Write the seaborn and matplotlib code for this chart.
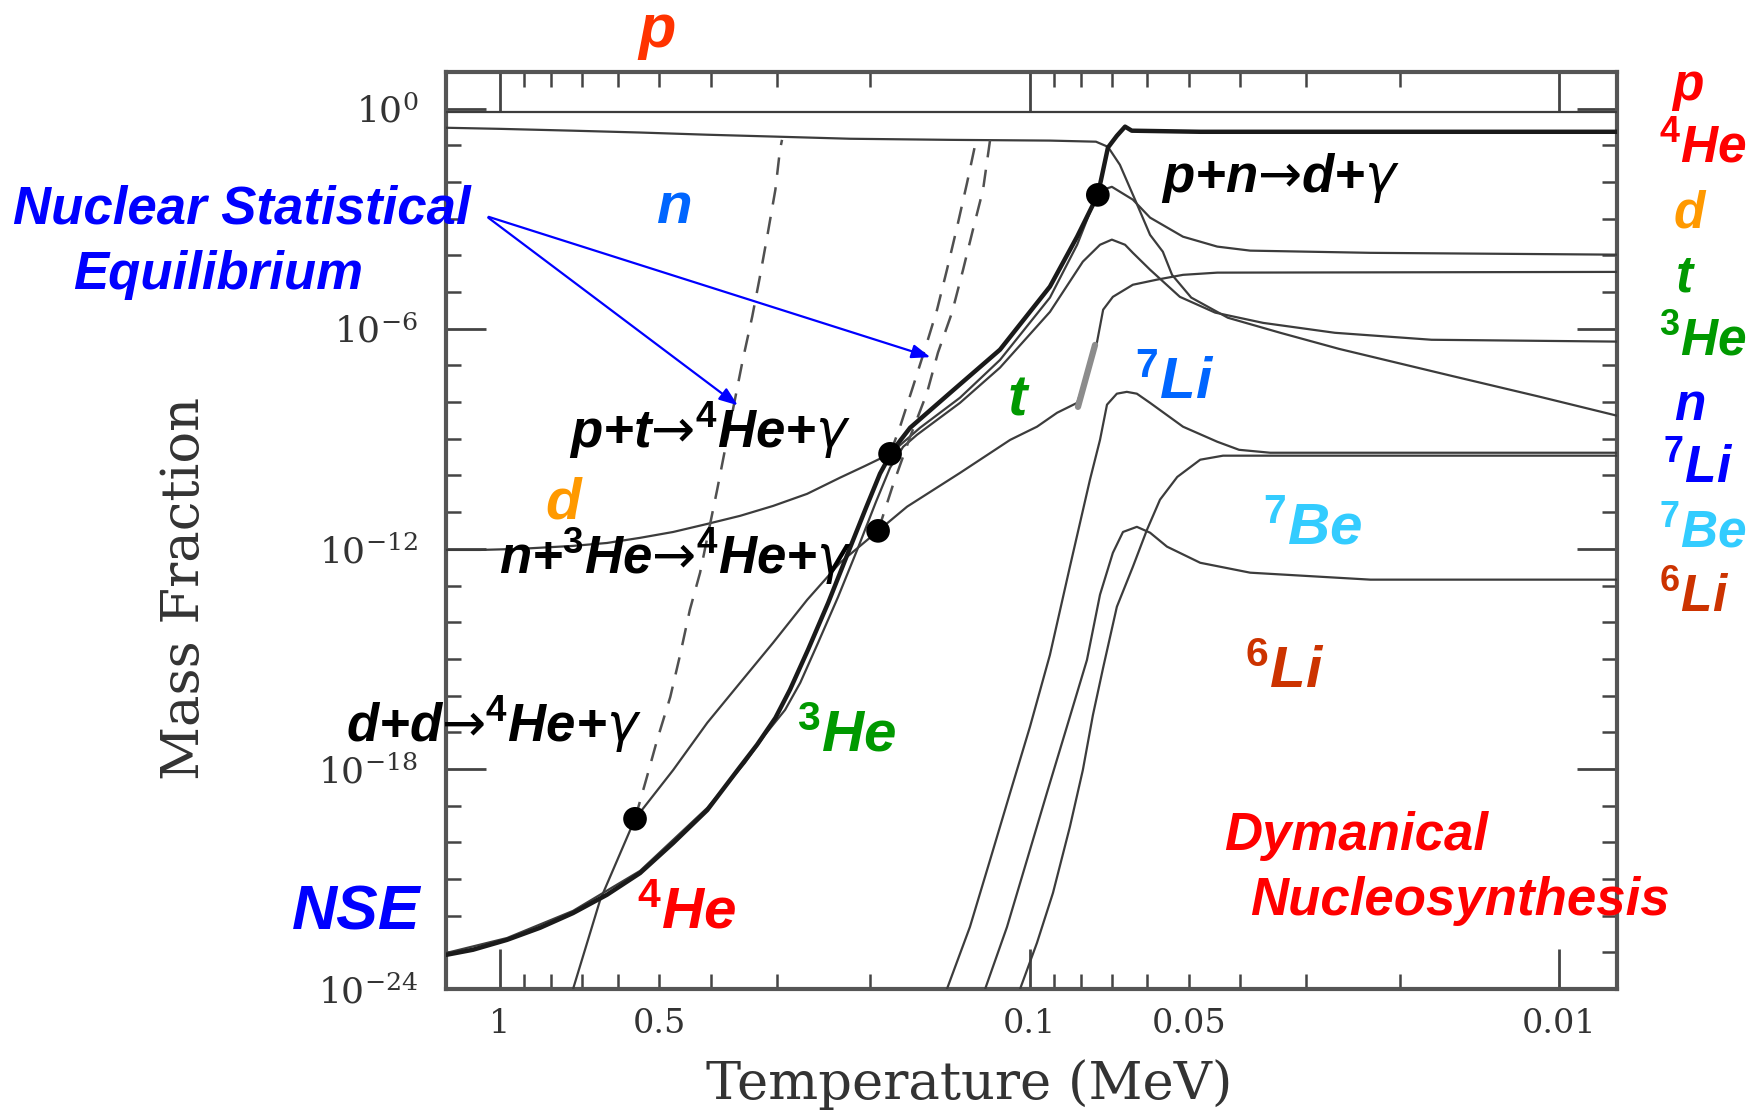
import numpy as np
import pandas as pd
import matplotlib
matplotlib.use("Agg")
import matplotlib.pyplot as plt
import matplotlib.ticker as mticker
from matplotlib.patches import FancyArrowPatch
import seaborn as sns

# ---------------------------------------------------------------------------
# Abundance tracks: temperature in MeV, log10 of the mass fraction
# ---------------------------------------------------------------------------
p_T = [1.265, 0.42, 0.114, 0.031, 0.00777]
p_logX = [-0.08, -0.08, -0.08, -0.08, -0.08]

n_T = [1.265, 1.0, 0.728, 0.544, 0.406, 0.305, 0.218, 0.141, 0.0915, 0.0749,
       0.0711, 0.0675, 0.0632, 0.0592, 0.0560, 0.0538, 0.0495, 0.0422, 0.0336,
       0.0260, 0.0160, 0.0109, 0.00777]
n_logX = [-0.52, -0.55, -0.60, -0.65, -0.71, -0.76, -0.82, -0.85, -0.87, -0.90,
          -1.04, -1.53, -2.48, -3.44, -3.90, -4.53, -5.15, -5.70, -6.11,
          -6.55, -7.28, -7.85, -8.37]

he4_T = [1.265, 1.125, 0.970, 0.840, 0.728, 0.628, 0.544, 0.471, 0.406, 0.352,
         0.327, 0.302, 0.2834, 0.262, 0.240, 0.2202, 0.2036, 0.1916, 0.1810,
         0.1681, 0.1413, 0.1137, 0.0915, 0.0813, 0.0743, 0.0711, 0.0684, 0.0660,
         0.0641, 0.0476, 0.00777]
he4_logX = [-23.07, -22.93, -22.66, -22.33, -21.93, -21.43, -20.84, -20.02, -19.12,
            -17.94, -17.34, -16.61, -15.84, -14.75, -13.47, -12.11, -10.88, -9.95,
            -9.30, -8.70, -7.75, -6.57, -4.85, -3.49, -2.35, -1.06, -0.74, -0.49,
            -0.60, -0.63, -0.63]

d_T = [1.265, 1.091, 0.917, 0.728, 0.628, 0.544, 0.471, 0.406, 0.352, 0.305,
       0.263, 0.228, 0.2045, 0.1834, 0.161, 0.1353, 0.1137, 0.0915, 0.0813,
       0.0759, 0.0726, 0.0699, 0.0638, 0.0592, 0.0513, 0.0442, 0.0383, 0.0227,
       0.00777]
d_logX = [-12.03, -12.03, -12.00, -11.92, -11.84, -11.70, -11.54, -11.32, -11.10,
          -10.83, -10.50, -10.06, -9.74, -9.41, -8.70, -7.88, -6.85, -5.15, -3.71,
          -2.62, -2.21, -2.13, -2.48, -2.97, -3.49, -3.76, -3.87, -3.93, -3.98]

he3_T = [1.265, 0.970, 0.728, 0.544, 0.406, 0.345, 0.316, 0.2895, 0.271, 0.2508,
         0.2299, 0.2108, 0.1950, 0.1834, 0.1733, 0.1631, 0.1353, 0.1137, 0.0915,
         0.0793, 0.0736, 0.0699, 0.0660, 0.0638, 0.0592, 0.0520, 0.0446, 0.0362,
         0.0265, 0.0174, 0.00777]
he3_logX = [-23.02, -22.61, -21.87, -20.78, -19.06, -17.84, -17.07, -16.39, -15.65,
            -14.56, -13.31, -11.97, -10.72, -9.79, -9.22, -8.89, -8.02, -7.06, -5.54,
            -4.17, -3.71, -3.57, -3.71, -3.93, -4.39, -5.13, -5.56, -5.84, -6.11,
            -6.30, -6.35]

t_T = [0.728, 0.647, 0.556, 0.471, 0.406, 0.352, 0.305, 0.263, 0.228, 0.1932,
       0.1703, 0.1353, 0.1088, 0.0968, 0.0887, 0.0813, 0.0779, 0.0746, 0.0726,
       0.0696, 0.0638, 0.0574, 0.0513, 0.0442, 0.00777]
t_logX = [-24.0, -21.57, -19.36, -18.03, -16.74, -15.65, -14.56, -13.39, -12.38,
          -11.51, -10.85, -9.93, -9.03, -8.67, -8.29, -8.02, -7.25, -6.38, -5.48,
          -5.13, -4.80, -4.66, -4.53, -4.47, -4.45]

li7_T = [0.1432, 0.1296, 0.1187, 0.1088, 0.0998, 0.0915, 0.0839, 0.0769, 0.0736,
         0.0714, 0.0684, 0.0655, 0.0627, 0.0592, 0.0513, 0.0442, 0.0402, 0.0351,
         0.00777]
li7_logX = [-24.0, -22.31, -20.48, -18.65, -16.85, -14.89, -12.49, -10.12, -9.03,
            -8.07, -7.77, -7.72, -7.77, -8.02, -8.67, -9.08, -9.30, -9.38, -9.38]

be7_T = [0.1042, 0.0968, 0.0903, 0.0839, 0.0793, 0.0759, 0.0726, 0.0684, 0.0638,
         0.0600, 0.0567, 0.0526, 0.0476, 0.0431, 0.00777]
be7_logX = [-24.0, -22.74, -21.38, -19.58, -18.03, -16.53, -15.24, -13.58, -12.49,
            -11.48, -10.66, -10.04, -9.57, -9.46, -9.46]

li6_T = [0.1213, 0.1103, 0.1011, 0.0927, 0.0850, 0.0779, 0.0736, 0.0696, 0.0666,
         0.0627, 0.0592, 0.0550, 0.0476, 0.0383, 0.0227, 0.00777]
li6_logX = [-24.0, -22.31, -20.48, -18.65, -16.85, -15.03, -13.25, -12.11, -11.54,
            -11.40, -11.56, -11.94, -12.38, -12.65, -12.84, -12.84]

# equilibrium (NSE) continuations, drawn dashed
nse1_T = [0.556, 0.528, 0.505, 0.477, 0.457, 0.438, 0.419, 0.389, 0.376, 0.348,
          0.334, 0.323, 0.312, 0.302, 0.296, 0.2934]
nse1_logX = [-19.36, -18.22, -17.21, -16.04, -14.89, -13.66, -12.65, -10.39, -9.30,
             -6.85, -5.67, -4.58, -3.38, -2.21, -1.12, -0.85]
nse2_T = [0.1834, 0.1756, 0.1660, 0.1562, 0.1495, 0.1432, 0.1370, 0.1312, 0.1257]
nse2_logX = [-9.41, -8.67, -7.58, -6.38, -5.48, -4.39, -3.22, -2.02, -0.76]
nse3_T = [0.1932, 0.1810, 0.1681, 0.1562, 0.1489, 0.1401, 0.1335, 0.1279, 0.1224,
          0.1187]
nse3_logX = [-11.51, -10.25, -8.95, -7.75, -6.65, -5.56, -4.39, -3.30, -2.21, -0.85]

# freeze-out points of the key reactions
freeze_T = [0.0743, 0.1834, 0.1932, 0.556]
freeze_logX = [-2.35, -9.41, -11.51, -19.36]

# grey marker on the tritium track
t_bar_T = [0.0810, 0.0752]
t_bar_logX = [-8.13, -6.44]

x_major_values = [1.0, 0.1, 0.01]
x_major_labels = ["1", "0.1", "0.01"]
x_minor_labelled = {0.5: "0.5", 0.05: "0.05"}
y_tick_values = [1e0, 1e-6, 1e-12, 1e-18, 1e-24]
y_tick_labels = [r"$10^{0}$", r"$10^{-6}$", r"$10^{-12}$", r"$10^{-18}$", r"$10^{-24}$"]

# ---------------------------------------------------------------------------
sns.set_theme(style="ticks")
plt.rcParams["font.family"] = ["DejaVu Serif"]
plt.rcParams["mathtext.fontset"] = "dejavuserif"
# fonts used by the coloured annotations (math_fontfamily="custom")
plt.rcParams["mathtext.rm"] = "Liberation Sans:bold"
plt.rcParams["mathtext.it"] = "Liberation Sans:italic:bold"
plt.rcParams["mathtext.bf"] = "Liberation Sans:bold"
plt.rcParams["mathtext.sf"] = "DejaVu Sans"
plt.rcParams["mathtext.tt"] = "DejaVu Sans:italic"

W, H = 1750, 1115
fig = plt.figure(figsize=(W / 100, H / 100), dpi=100, facecolor="white")
ax = fig.add_axes([446 / W, 1 - 989 / H, 1171 / W, 917 / H])
ax.set_xscale("log")
ax.set_yscale("log")

LINE = "#3c3c3c"


def track(T, logX, lw=1.6, color=LINE, ls="-", z=3):
    frame = pd.DataFrame({"T": T, "X": np.power(10.0, logX)})
    sns.lineplot(data=frame, x="T", y="X", ax=ax, sort=False, estimator=None,
                 color=color, lw=lw, linestyle=ls, zorder=z)


for T, lx in [(p_T, p_logX), (n_T, n_logX), (d_T, d_logX), (he3_T, he3_logX),
              (t_T, t_logX), (li7_T, li7_logX), (be7_T, be7_logX), (li6_T, li6_logX)]:
    track(T, lx)
track(he4_T, he4_logX, lw=3.2, color="#1a1a1a", z=4)
for T, lx in [(nse1_T, nse1_logX), (nse2_T, nse2_logX), (nse3_T, nse3_logX)]:
    track(T, lx, lw=1.8, color="#505050", ls=(0, (7, 5)))
track(t_bar_T, t_bar_logX, lw=4.5, color="#8c8c8c", z=5)

sns.scatterplot(x=freeze_T, y=np.power(10.0, freeze_logX), ax=ax, s=290,
                color="black", edgecolor="none", zorder=6)

ax.set_xlim(1.265, 0.00777)
ax.set_ylim(1e-24, 1e1)

# x ticks
ax.set_xticks(x_major_values, labels=x_major_labels)
minor_T = [m * 10.0 ** e for e in (0, -1, -2) for m in range(2, 10)]
minor_T = [v for v in minor_T if 0.00777 < v < 1.265]
ax.xaxis.set_minor_locator(mticker.FixedLocator(minor_T))


def minor_fmt(v, pos):
    for key, txt in x_minor_labelled.items():
        if abs(np.log10(v) - np.log10(key)) < 1e-6:
            return txt
    return ""


ax.xaxis.set_minor_formatter(mticker.FuncFormatter(minor_fmt))

# y ticks
ax.set_yticks(y_tick_values, labels=y_tick_labels)
ax.yaxis.set_minor_locator(mticker.FixedLocator(
    [10.0 ** e for e in range(1, -24, -1) if e % 6 != 0]))
ax.yaxis.set_minor_formatter(mticker.NullFormatter())

ax.tick_params(which="both", direction="in", top=True, right=True,
               color="#444444", labelcolor="#333333")
ax.tick_params(axis="x", which="both", labelsize=24, pad=14)
ax.tick_params(axis="y", which="both", labelsize=26, pad=20)
ax.tick_params(which="major", length=29, width=2.0)
ax.tick_params(which="minor", length=11, width=1.8)
for sp in ax.spines.values():
    sp.set_linewidth(3)
    sp.set_color("#555555")

ax.set_xlabel("Temperature (MeV)", fontsize=38, color="#333333")
ax.set_ylabel("Mass Fraction", fontsize=38, color="#333333")
ax.xaxis.set_label_coords((969 - 446) / 1171, (989 - 1085) / 917)
ax.xaxis.label.set_va("center")
ax.yaxis.set_label_coords((184 - 446) / 1171, (989 - 588) / 917)
ax.yaxis.label.set_va("center")


# ---------------------------------------------------------------------------
# annotations
def label(x, y, s, color="black", size=40):
    fig.text(x / W, 1 - y / H, s, color=color, fontsize=size,
             family="Liberation Sans", weight="bold", style="italic",
             ha="left", va="baseline", math_fontfamily="custom")


ARROW = r"$\mathsf{→}$"
GAMMA = r"$\mathtt{γ}$"
SUP4 = r"$^{4}$"
SUP3 = r"$^{3}$"

label(638, 47, "p", "#FF3300", 44)
label(13, 223, "Nuclear Statistical", "#0000FF", 38)
label(73, 289, "Equilibrium", "#0000FF", 38)
label(657, 223, "n", "#0066FF", 42)
label(1161, 192, "p+n" + ARROW + "d+" + GAMMA, "black", 38)
label(569, 448, "p+t" + ARROW + SUP4 + "He+" + GAMMA, "black", 38)
label(499, 574, "n+" + SUP3 + "He" + ARROW + SUP4 + "He+" + GAMMA, "black", 38)
label(346, 742, "d+d" + ARROW + SUP4 + "He+" + GAMMA, "black", 38)
label(545, 518, "d", "#FF9900", 42)
label(1008, 415, "t", "#009900", 42)
label(1135, 398, "$^{7}$Li", "#0066FF", 42)
label(1263, 543, "$^{7}$Be", "#33CCFF", 42)
label(1245, 688, "$^{6}$Li", "#CC3300", 42)
label(797, 752, SUP3 + "He", "#009900", 42)
label(637, 928, SUP4 + "He", "#FF0000", 42)
label(292, 929, "NSE", "#0000FF", 45)
label(1224, 850, "Dymanical", "#FF0000", 38)
label(1250, 915, "Nucleosynthesis", "#FF0000", 38)

legend_items = [("p", 1672, 100, "#FF0000"), (SUP4 + "He", 1659, 163, "#FF0000"),
                ("d", 1674, 228, "#FF9900"), ("t", 1676, 292, "#009900"),
                (SUP3 + "He", 1659, 355, "#009900"), ("n", 1674, 420, "#0000FF"),
                ("$^{7}$Li", 1663, 483, "#0000FF"), ("$^{7}$Be", 1659, 548, "#33CCFF"),
                ("$^{6}$Li", 1659, 612, "#CC3300")]
for s, x, y, c in legend_items:
    label(x, y, s, c, 37)

for tip in [(740, 407), (933, 358)]:
    arrow = FancyArrowPatch((486 / W, 1 - 216 / H), (tip[0] / W, 1 - tip[1] / H),
                            transform=fig.transFigure,
                            arrowstyle="-|>,head_length=0.8,head_width=0.3",
                            mutation_scale=14, color="#0000FF", lw=1.6)
    fig.add_artist(arrow)

fig.savefig("out.png", dpi=100, facecolor="white")
